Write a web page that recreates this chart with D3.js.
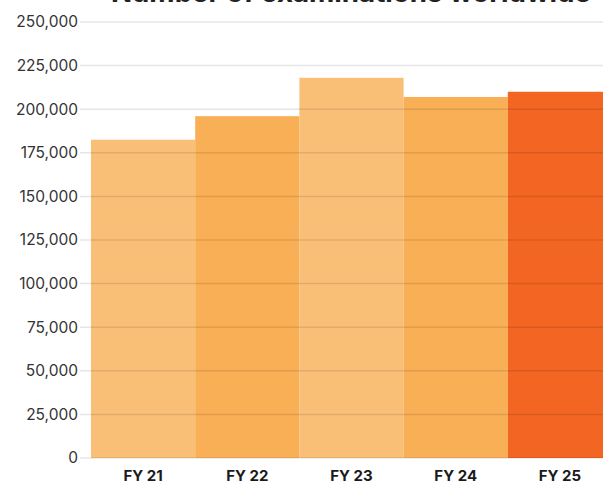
<!DOCTYPE html>
<html>
<head>
<meta charset="utf-8">
<script src="https://cdn.jsdelivr.net/npm/d3@7"></script>
<style>
  body { margin: 0; background: #fff; }
  svg { display: block; font-family: Inter, "Open Sans", sans-serif; }
</style>
</head>
<body>
<svg width="603" height="484"></svg>
<script>
// data
var years = ["FY 21", "FY 22", "FY 23", "FY 24", "FY 25"];
var exams = [182500, 196000, 218000, 207000, 210000];
var barColors = ["#F9BF76", "#F9AF55", "#F9BF76", "#F9AF55", "#F26522"];
var yTicks = [0, 25000, 50000, 75000, 100000, 125000, 150000, 175000, 200000, 225000, 250000];
var title = "Number of examinations worldwide";

var svg = d3.select("svg");

var x = d3.scaleBand()
    .domain(years)
    .range([91, 612])
    .padding(0);

var y = d3.scaleLinear()
    .domain([0, 250000])
    .range([458, 22]);

// bars
svg.selectAll("rect.bar")
    .data(exams)
    .enter().append("rect")
    .attr("class", "bar")
    .attr("x", function(d, i){ return x(years[i]) })
    .attr("width", x.bandwidth())
    .attr("y", function(d){ return y(d) })
    .attr("height", function(d){ return y(0) - y(d) })
    .attr("fill", function(d, i){ return barColors[i] });

// grid lines drawn over the bars
svg.selectAll("line.grid")
    .data(yTicks)
    .enter().append("line")
    .attr("class", "grid")
    .attr("x1", 80)
    .attr("x2", 603)
    .attr("y1", function(d){ return y(d) })
    .attr("y2", function(d){ return y(d) })
    .style("stroke", "rgba(0,0,0,0.1)")
    .style("stroke-width", 1.5);

// y axis labels
var fmt = d3.format(",");
svg.selectAll("text.ytick")
    .data(yTicks)
    .enter().append("text")
    .attr("class", "ytick")
    .attr("x", 78)
    .attr("y", function(d){ return y(d) })
    .attr("dy", "0.35em")
    .attr("text-anchor", "end")
    .style("font-size", "15.5px")
    .style("fill", "#333")
    .text(function(d){ return fmt(d) });

// x axis labels
svg.selectAll("text.xtick")
    .data(years)
    .enter().append("text")
    .attr("class", "xtick")
    .attr("x", function(d){ return x(d) + x.bandwidth() / 2 })
    .attr("y", 481)
    .attr("text-anchor", "middle")
    .style("font-size", "15px")
    .style("font-weight", "bold")
    .style("fill", "#1a1a1a")
    .text(function(d){ return d });

// title, mostly off the top of the frame
svg.append("text")
    .attr("x", 111)
    .attr("y", 2)
    .attr("textLength", 480)
    .attr("lengthAdjust", "spacingAndGlyphs")
    .style("font-size", "26px")
    .style("font-weight", "bold")
    .style("fill", "#222")
    .text(title);
</script>
</body>
</html>
